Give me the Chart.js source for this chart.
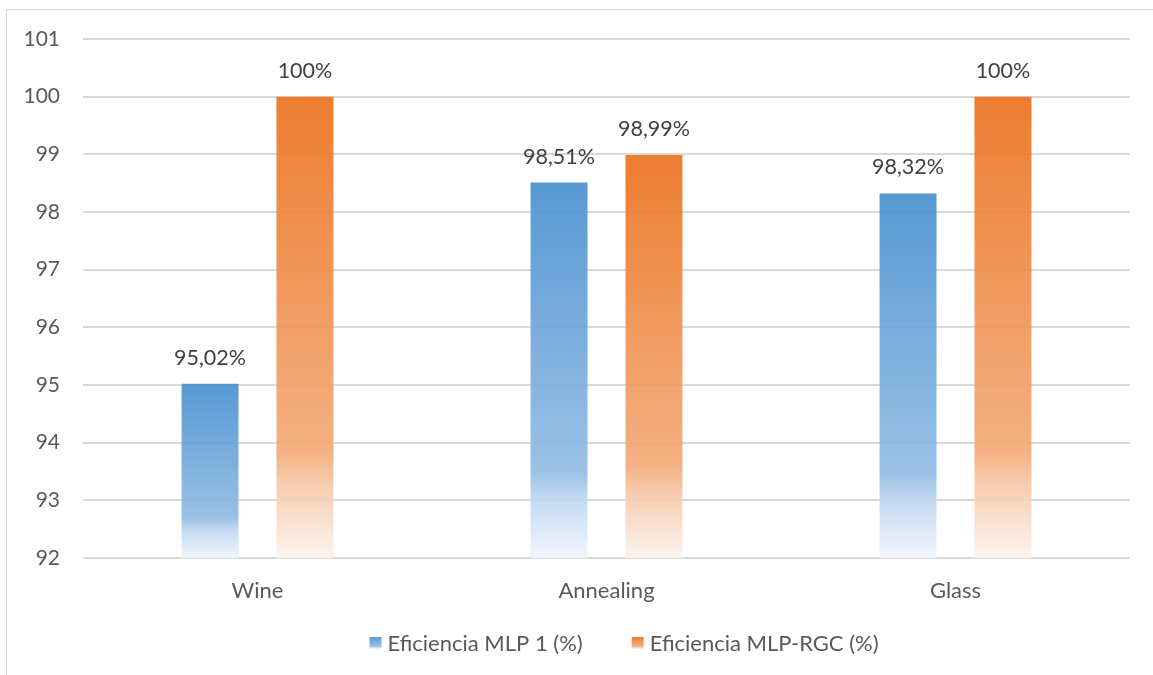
<!DOCTYPE html>
<html>
<head>
<meta charset="utf-8">
<script src="https://cdn.jsdelivr.net/npm/chart.js@4.4.1/dist/chart.umd.min.js"></script>
<style>
  html, body { margin: 0; padding: 0; background: #fff; overflow: hidden; }
  #wrap { position: relative; width: 1153px; height: 675px; }
  #frame { position: absolute; left: 6px; top: 9px; width: 1200px; height: 700px;
           border-left: 1px solid #d9d9d9; border-top: 1px solid #d9d9d9; box-sizing: border-box; }
  #c { position: absolute; left: 0; top: 0; }
</style>
</head>
<body>
<div id="wrap">
  <div id="frame"></div>
  <canvas id="c" width="1153" height="675"></canvas>
</div>
<script>
// Datasets
const categories = ['Wine', 'Annealing', 'Glass'];
const seriesNames = ['Eficiencia MLP 1 (%)', 'Eficiencia MLP-RGC (%)'];
const mlp1 = [95.02, 98.51, 98.32];
const mlpRgc = [100, 98.99, 100];
const yTicks = [92, 93, 94, 95, 96, 97, 98, 99, 100, 101];

const FONT = 'Lato, "Open Sans", sans-serif';
const AXIS_MIN = yTicks[0];
const AXIS_MAX = yTicks[yTicks.length - 1];

// Gradient stops per series: solid at the top, fading to near-white at the base
const palettes = [
  [[0, 'rgba(73,144,208,0.92)'], [0.77, 'rgba(146,188,228,0.92)'], [0.84, 'rgba(190,214,240,0.92)'], [1, 'rgba(240,245,252,0.92)']],
  [[0, 'rgba(235,113,30,0.92)'], [0.77, 'rgba(243,170,120,0.92)'], [0.84, 'rgba(246,200,168,0.92)'], [1, 'rgba(251,243,238,0.92)']]
];

function barGradient(ctx) {
  const chart = ctx.chart;
  const yScale = chart.scales.y;
  const fallback = palettes[ctx.datasetIndex][0][1];
  if (!yScale || ctx.type !== 'data') return fallback;
  const top = yScale.getPixelForValue(ctx.raw);
  const base = yScale.getPixelForValue(AXIS_MIN);
  if (!isFinite(top) || !isFinite(base) || top === base) return fallback;
  const g = chart.ctx.createLinearGradient(0, top, 0, base);
  palettes[ctx.datasetIndex].forEach(([o, c]) => g.addColorStop(o, c));
  return g;
}

function fmtPct(v) {
  return (Number.isInteger(v) ? String(v) : v.toFixed(2).replace('.', ',')) + '%';
}

// Value labels above every bar
const valueLabels = {
  id: 'valueLabels',
  afterDatasetsDraw(chart) {
    const ctx = chart.ctx;
    ctx.save();
    ctx.font = '21.5px ' + FONT;
    ctx.fillStyle = '#404040';
    ctx.textAlign = 'center';
    ctx.textBaseline = 'middle';
    chart.data.datasets.forEach((ds, di) => {
      chart.getDatasetMeta(di).data.forEach((el, i) => {
        ctx.fillText(fmtPct(ds.data[i]), el.x, el.y - 26);
      });
    });
    ctx.restore();
  }
};

// Legend row with gradient swatches
const swatchLegend = {
  id: 'swatchLegend',
  afterDraw(chart) {
    const ctx = chart.ctx;
    ctx.save();
    ctx.font = '22px ' + FONT;
    ctx.textBaseline = 'middle';
    ctx.textAlign = 'left';
    const box = 12, gapBox = 6, gapItem = 49, cy = 643;
    const widths = seriesNames.map(t => box + gapBox + ctx.measureText(t).width);
    const total = widths.reduce((a, b) => a + b, 0) + gapItem * (widths.length - 1);
    let x = 624 - total / 2;
    seriesNames.forEach((name, i) => {
      const g = ctx.createLinearGradient(0, cy - box / 2, 0, cy + box / 2);
      palettes[i].forEach(([o, c]) => g.addColorStop(o, c));
      ctx.fillStyle = g;
      ctx.fillRect(x, cy - box / 2, box, box);
      ctx.fillStyle = '#595959';
      ctx.fillText(name, x + box + gapBox, cy + 1);
      x += widths[i] + gapItem;
    });
    ctx.restore();
  }
};

new Chart(document.getElementById('c'), {
  type: 'bar',
  data: {
    labels: categories,
    datasets: [
      { label: seriesNames[0], data: mlp1, backgroundColor: barGradient, borderWidth: 0,
        categoryPercentage: 0.544, barPercentage: 0.6 },
      { label: seriesNames[1], data: mlpRgc, backgroundColor: barGradient, borderWidth: 0,
        categoryPercentage: 0.544, barPercentage: 0.6 }
    ]
  },
  options: {
    responsive: false,
    devicePixelRatio: 1,
    animation: false,
    layout: { padding: { top: 39, right: 23, left: 0, bottom: 0 } },
    plugins: { legend: { display: false }, tooltip: { enabled: false } },
    scales: {
      x: {
        grid: { display: false },
        border: { display: false },
        ticks: { color: '#595959', font: { family: FONT, size: 22 }, padding: 12 },
        afterFit(s) { s.height = 117; }
      },
      y: {
        min: AXIS_MIN, max: AXIS_MAX,
        grid: { color: '#d9d9d9', lineWidth: 2, drawTicks: false },
        border: { display: false },
        ticks: {
          stepSize: 1, color: '#595959', font: { family: FONT, size: 21 }, padding: 23,
          callback: (v) => yTicks.includes(v) ? String(v) : ''
        },
        afterFit(s) { s.width = 83; }
      }
    }
  },
  plugins: [valueLabels, swatchLegend]
});
</script>
</body>
</html>
